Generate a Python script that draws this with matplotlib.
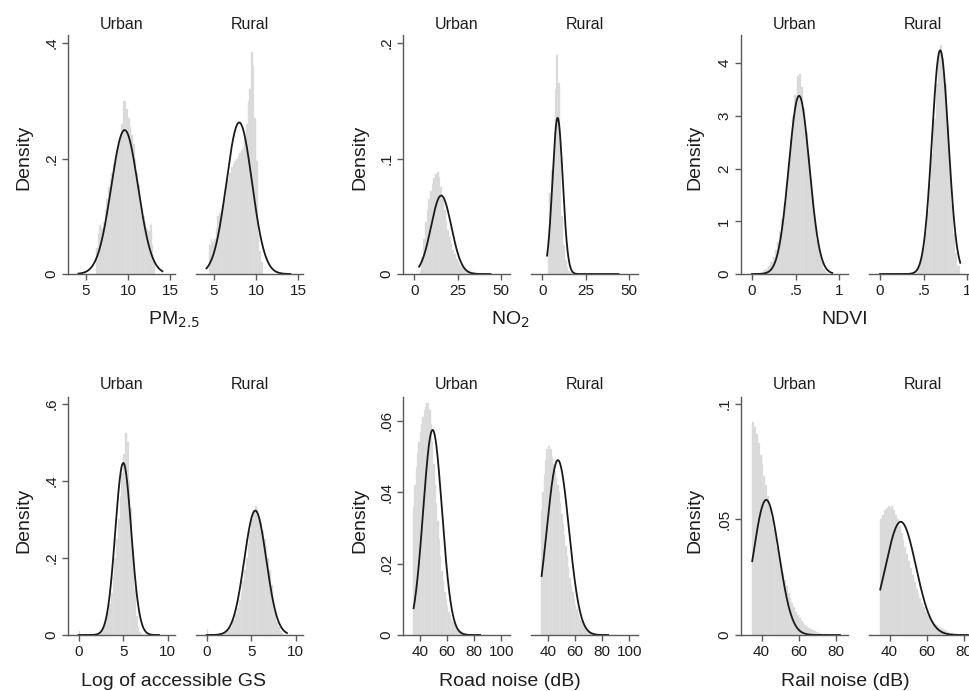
import numpy as np
import matplotlib
matplotlib.use("Agg")
import matplotlib.pyplot as plt

plt.rcParams["font.family"] = ["Liberation Sans", "DejaVu Sans"]

W, H = 970, 691

groups = ["Urban", "Rural"]

# PM2.5 histogram (density per bin) and fitted normal
pm25_bin = 0.2
pm25_urban_start = 6.2
pm25_urban = [0.045, 0.07, 0.085, 0.08, 0.09, 0.11, 0.13, 0.15, 0.165, 0.175,
              0.19, 0.20, 0.215, 0.225, 0.24, 0.26, 0.30, 0.30, 0.285, 0.27,
              0.255, 0.24, 0.225, 0.20, 0.175, 0.155, 0.13, 0.115, 0.10, 0.09,
              0.08, 0.075, 0.085, 0.05, 0.02]
pm25_rural_start = 4.4
pm25_rural = [0.05, 0.06, 0.055, 0.06, 0.08, 0.10, 0.105, 0.11, 0.12, 0.13,
              0.15, 0.165, 0.175, 0.185, 0.19, 0.195, 0.20, 0.205, 0.21, 0.215,
              0.22, 0.235, 0.26, 0.30, 0.32, 0.385, 0.36, 0.27, 0.195, 0.07,
              0.04, 0.02]
pm25_mean = [9.6, 8.0]
pm25_sd = [1.6, 1.52]
pm25_curve = [4.1, 14.1]

# NO2
no2_bin = 1.0
no2_urban_start = 3
no2_urban = [0.003, 0.015, 0.03, 0.045, 0.055, 0.065, 0.072, 0.078, 0.083, 0.087,
             0.088, 0.084, 0.075, 0.065, 0.055, 0.046, 0.038, 0.032, 0.026, 0.021,
             0.017, 0.013, 0.01, 0.008, 0.006, 0.005, 0.004, 0.003, 0.003, 0.002,
             0.002, 0.002, 0.001, 0.001, 0.001]
no2_rural_start = 3
no2_rural = [0.02, 0.07, 0.09, 0.10, 0.16, 0.19, 0.165, 0.10, 0.05, 0.025,
             0.012, 0.006, 0.003, 0.002]
no2_mean = [15.5, 8.8]
no2_sd = [5.87, 2.95]
no2_curve = [2.7, 44]

# NDVI
ndvi_bin = 0.025
ndvi_urban_start = 0.0875
ndvi_urban = [0.02, 0.04, 0.07, 0.10, 0.15, 0.22, 0.32, 0.45, 0.60, 0.80,
              1.05, 1.35, 1.70, 2.10, 2.55, 3.00, 3.40, 3.75, 3.80, 3.55,
              3.15, 2.70, 2.25, 1.80, 1.40, 1.00, 0.65, 0.40, 0.22, 0.10, 0.04]
ndvi_rural_start = 0.3875
ndvi_rural = [0.03, 0.07, 0.15, 0.28, 0.50, 0.80, 1.20, 1.70, 2.30, 2.95,
              3.60, 4.15, 4.35, 4.10, 3.60, 2.80, 2.00, 1.30, 0.75, 0.40, 0.15]
ndvi_mean = [0.54, 0.69]
ndvi_sd = [0.118, 0.094]
ndvi_curve = [0.0, 0.92]

# Log of accessible green space
gs_bin = 0.2
gs_urban_start = 0.0
gs_urban = [0.01, 0, 0, 0, 0, 0, 0, 0, 0, 0, 0,
            0.005, 0.01, 0.02, 0.03, 0.045, 0.06, 0.08, 0.11, 0.15, 0.20,
            0.25, 0.30, 0.36, 0.42, 0.47, 0.525, 0.50, 0.40, 0.33, 0.22,
            0.12, 0.05, 0.02, 0.008, 0.003]
gs_rural_start = 0.0
gs_rural = [0.015, 0, 0, 0, 0, 0, 0, 0, 0,
            0.003, 0.005, 0.01, 0.015, 0.02, 0.03, 0.04, 0.055, 0.07, 0.09,
            0.11, 0.14, 0.17, 0.20, 0.235, 0.27, 0.30, 0.325, 0.335, 0.33,
            0.31, 0.29, 0.27, 0.25, 0.23, 0.20, 0.17, 0.13, 0.09, 0.06,
            0.035, 0.02, 0.01, 0.005]
gs_mean = [5.0, 5.45]
gs_sd = [0.893, 1.235]
gs_curve = [0.0, 9.0]

# Road noise
road_bin = 1.0
road_urban_start = 35
road_urban = [0.036, 0.042, 0.047, 0.051, 0.054, 0.057, 0.059, 0.061, 0.063, 0.064,
              0.065, 0.065, 0.063, 0.059, 0.054, 0.048, 0.042, 0.037, 0.032, 0.027,
              0.022, 0.018, 0.015, 0.012, 0.01, 0.008, 0.0065, 0.0055, 0.0045, 0.0037,
              0.003, 0.0025, 0.002, 0.0016, 0.0013, 0.001, 0.0008, 0.0006, 0.0005, 0.0004]
road_rural_start = 35
road_rural = [0.035, 0.04, 0.045, 0.049, 0.052, 0.053, 0.053, 0.052, 0.05, 0.048,
              0.046, 0.044, 0.042, 0.04, 0.037, 0.034, 0.031, 0.028, 0.025, 0.022,
              0.019, 0.016, 0.014, 0.012, 0.01, 0.0085, 0.0072, 0.006, 0.005, 0.0042,
              0.0035, 0.0028, 0.0022, 0.0017, 0.0013, 0.001, 0.0008, 0.0006, 0.0005, 0.0004]
road_mean = [49.5, 47.5]
road_sd = [6.94, 8.14]
road_curve = [35.5, 84.5]

# Rail noise
rail_bin = 1.0
rail_urban_start = 35
rail_urban = [0.092, 0.090, 0.087, 0.083, 0.078, 0.074, 0.069, 0.065, 0.060, 0.055,
              0.050, 0.046, 0.042, 0.038, 0.034, 0.030, 0.027, 0.024, 0.021, 0.018,
              0.016, 0.014, 0.012, 0.010, 0.0085, 0.0072, 0.006, 0.005, 0.0042, 0.0035,
              0.0029, 0.0024, 0.002, 0.0016, 0.0013, 0.001, 0.0008, 0.0006, 0.0005, 0.0004,
              0.0003]
rail_rural_start = 35
rail_rural = [0.050, 0.052, 0.054, 0.055, 0.056, 0.055, 0.056, 0.054, 0.052, 0.050,
              0.047, 0.044, 0.041, 0.038, 0.035, 0.032, 0.029, 0.026, 0.023, 0.020,
              0.018, 0.016, 0.014, 0.012, 0.010, 0.0088, 0.0076, 0.0066, 0.0057, 0.0049,
              0.0042, 0.0035, 0.0029, 0.0024, 0.002, 0.0016, 0.0013, 0.001, 0.0008, 0.0006,
              0.0005]
rail_mean = [42.5, 46.0]
rail_sd = [6.82, 8.14]
rail_curve = [35.0, 82.0]

panels = [
    dict(title="PM$_{2.5}$", bin=pm25_bin, starts=[pm25_urban_start, pm25_rural_start],
         hists=[pm25_urban, pm25_rural], mean=pm25_mean, sd=pm25_sd, curve=pm25_curve,
         xlim=(2.85, 15.6), xticks=[5, 10, 15], ylim=(0, 0.414), yticks=[0, 0.2, 0.4]),
    dict(title="NO$_2$", bin=no2_bin, starts=[no2_urban_start, no2_rural_start],
         hists=[no2_urban, no2_rural], mean=no2_mean, sd=no2_sd, curve=no2_curve,
         xlim=(-6.6, 55.3), xticks=[0, 25, 50], ylim=(0, 0.207), yticks=[0, 0.1, 0.2]),
    dict(title="NDVI", bin=ndvi_bin, starts=[ndvi_urban_start, ndvi_rural_start],
         hists=[ndvi_urban, ndvi_rural], mean=ndvi_mean, sd=ndvi_sd, curve=ndvi_curve,
         xlim=(-0.125, 1.10), xticks=[0, 0.5, 1], ylim=(0, 4.535), yticks=[0, 1, 2, 3, 4]),
    dict(title="Log of accessible GS", bin=gs_bin, starts=[gs_urban_start, gs_rural_start],
         hists=[gs_urban, gs_rural], mean=gs_mean, sd=gs_sd, curve=gs_curve,
         xlim=(-1.2, 10.8), xticks=[0, 5, 10], ylim=(0, 0.618), yticks=[0, 0.2, 0.4, 0.6]),
    dict(title="Road noise (dB)", bin=road_bin, starts=[road_urban_start, road_rural_start],
         hists=[road_urban, road_rural], mean=road_mean, sd=road_sd, curve=road_curve,
         xlim=(27.7, 106.5), xticks=[40, 60, 80, 100], ylim=(0, 0.0667),
         yticks=[0, 0.02, 0.04, 0.06]),
    dict(title="Rail noise (dB)", bin=rail_bin, starts=[rail_urban_start, rail_rural_start],
         hists=[rail_urban, rail_rural], mean=rail_mean, sd=rail_sd, curve=rail_curve,
         xlim=(29, 86.3), xticks=[40, 60, 80], ylim=(0, 0.103), yticks=[0, 0.05, 0.1]),
]

# pixel layout of the 2x3 grid
col_left = [68, 403, 741]
sub_w = 107
rural_off = 128
row_top = [35, 397]
row_bot = [274, 635]
title_gap = [3, 5]
xlabel_x = [174, 510, 845]
ylabel_x = [24, 360, 695]
ylabel_y = [157, 520]
xlabel_y = [320, 681]

AXIS_C = "#5a5a5a"
TEXT_C = "#1e1e1e"


def fmt(v):
    s = f"{v:g}"
    if s.startswith("0."):
        s = s[1:]
    return s


def normal_pdf(x, mu, sd):
    return np.exp(-0.5 * ((x - mu) / sd) ** 2) / (sd * np.sqrt(2 * np.pi))


fig = plt.figure(figsize=(W / 100, H / 100), dpi=100)

for i, p in enumerate(panels):
    r, c = divmod(i, 3)
    y0, y1 = row_top[r], row_bot[r]
    for g in range(2):
        x0 = col_left[c] + g * rural_off
        ax = fig.add_axes([x0 / W, 1 - y1 / H, sub_w / W, (y1 - y0) / H])
        h = np.array(p["hists"][g])
        edges = p["starts"][g] + p["bin"] * np.arange(len(h))
        ax.bar(edges, h, width=p["bin"], align="edge", color="#d7d7d7",
               edgecolor="#e3e3e3", linewidth=0.3)
        xs = np.linspace(p["curve"][0], p["curve"][1], 300)
        ax.plot(xs, normal_pdf(xs, p["mean"][g], p["sd"][g]), color="#1a1a1a", lw=1.3)

        ax.set_xlim(*p["xlim"])
        ax.set_ylim(*p["ylim"])
        ax.set_xticks(p["xticks"])
        ax.set_xticklabels([fmt(v) for v in p["xticks"]])
        for s in ["top", "right"]:
            ax.spines[s].set_visible(False)
        ax.spines["bottom"].set_color(AXIS_C)
        ax.spines["bottom"].set_linewidth(1.0)
        ax.tick_params(axis="x", colors=AXIS_C, labelcolor=TEXT_C, labelsize=11,
                       length=4, width=1.0, pad=3)
        if g == 0:
            ax.spines["left"].set_color(AXIS_C)
            ax.spines["left"].set_linewidth(1.0)
            ax.set_yticks(p["yticks"])
            ax.set_yticklabels([fmt(v) for v in p["yticks"]], rotation=90, va="center")
            ax.tick_params(axis="y", colors=AXIS_C, labelcolor=TEXT_C, labelsize=11,
                           length=4, width=1.0, pad=3)
        else:
            ax.spines["left"].set_visible(False)
            ax.set_yticks([])
        ax.set_facecolor("none")
        ax.text(0.5, 1.0 + title_gap[r] / (y1 - y0), groups[g], transform=ax.transAxes,
                ha="center", va="bottom", fontsize=11.5, color=TEXT_C)

    fig.text(xlabel_x[c] / W, 1 - xlabel_y[r] / H, p["title"], ha="center", va="center",
             fontsize=14, color=TEXT_C)
    fig.text(ylabel_x[c] / W, 1 - ylabel_y[r] / H, "Density", rotation=90,
             ha="center", va="center", fontsize=14, color=TEXT_C)

fig.savefig("out.png", dpi=100)
